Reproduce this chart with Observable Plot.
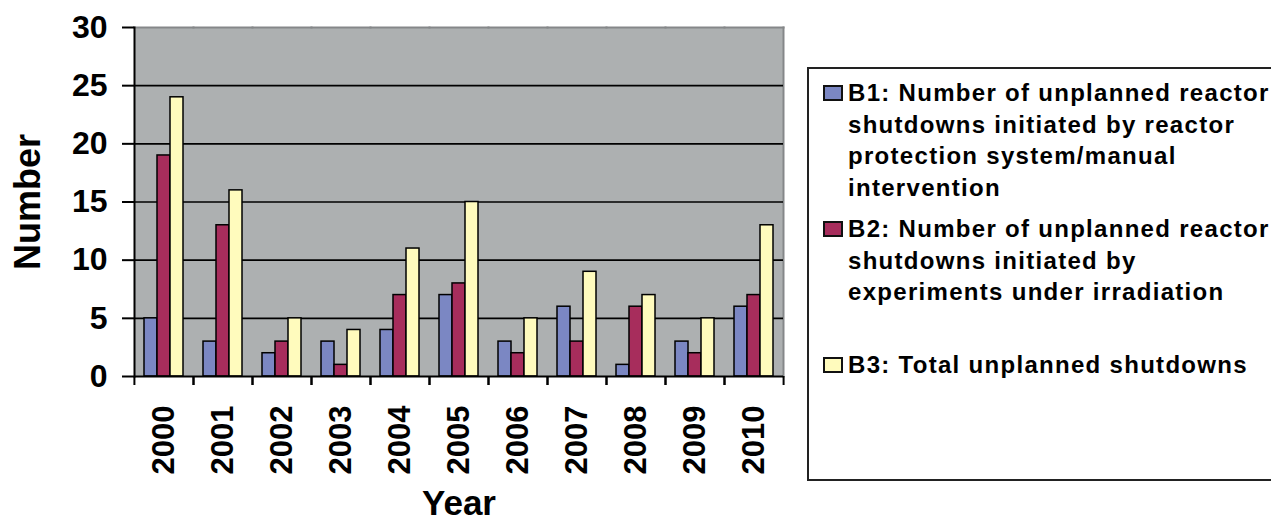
<!DOCTYPE html>
<html>
<head>
<meta charset="utf-8">
<script src="https://cdn.jsdelivr.net/npm/d3@7"></script>
<script src="https://cdn.jsdelivr.net/npm/@observablehq/plot@0.6"></script>
<style>
  html, body { margin: 0; padding: 0; background: #fff; }
  #wrap { position: relative; width: 1271px; height: 521px; overflow: hidden; background: #fff;
          font-family: "Liberation Sans", Arial, sans-serif; font-weight: bold; }
  #chart { position: absolute; left: 0; top: 0; }
  #legend { position: absolute; left: 807px; top: 67px; width: 480px; height: 414px;
            border: 2px solid #222; box-sizing: border-box; background: #fff; }
  .item { position: relative; padding-left: 39px; font-size: 24px; letter-spacing: 1.3px;
          line-height: 31.5px; color: #000; white-space: nowrap; }
  .sw { position: absolute; left: 14px; top: 8px; width: 20px; height: 16px;
        box-sizing: border-box; border: 2px solid #111; }
</style>
</head>
<body>
<div id="wrap">
  <div id="chart"></div>
  <div id="legend"></div>
</div>
<script>
const years = ["2000","2001","2002","2003","2004","2005","2006","2007","2008","2009","2010"];
const seriesKeys = ["B1","B2","B3"];
const b1 = [5, 3, 2, 3, 4, 7, 3, 6, 1, 3, 6];
const b2 = [19, 13, 3, 1, 7, 8, 2, 3, 6, 2, 7];
const b3 = [24, 16, 5, 4, 11, 15, 5, 9, 7, 5, 13];
const yTicks = [0, 5, 10, 15, 20, 25, 30];
const gridTicks = [5, 10, 15, 20, 25];
const colors = ["#7b87c3", "#a72d5c", "#fffbbd"];
const legendLines = [
  ["B1: Number of unplanned reactor", "shutdowns initiated by reactor", "protection system/manual", "intervention"],
  ["B2: Number of unplanned reactor", "shutdowns initiated by", "experiments under irradiation"],
  ["B3: Total unplanned shutdowns"]
];
const legendGapBefore = [8, 10, 41];

const values = [b1, b2, b3];
const data = years.flatMap((yr, i) => seriesKeys.map((s, k) => ({year: yr, series: s, value: values[k][i]})));

const W = 1271, H = 521;
const mL = 133, mR = W - 784, mT = 27, mB = H - 376;
const bw = (W - mL - mR) / years.length;
const bg = "#adb0b1";

const chart = Plot.plot({
  width: W, height: H,
  marginLeft: mL, marginRight: mR, marginTop: mT, marginBottom: mB,
  style: {fontFamily: "'Liberation Sans', Arial, sans-serif", fontWeight: "bold", background: "transparent", overflow: "visible", color: "#000"},
  fx: {domain: years, padding: 0},
  x: {domain: seriesKeys, paddingInner: 0, paddingOuter: 0.69, axis: null},
  y: {domain: [0, 30]},
  color: {domain: seriesKeys, range: colors},
  marks: [
    Plot.frame({fill: bg, stroke: bg, strokeWidth: 1}),
    Plot.frame({anchor: "top", stroke: "#858789", strokeWidth: 2}),
    Plot.frame({anchor: "right", stroke: "#858789", strokeWidth: 2, facetAnchor: "right"}),
    Plot.ruleY(gridTicks, {stroke: "#000", strokeWidth: 1.6}),
    Plot.barY(data, {fx: "year", x: "series", y: "value", fill: "series", stroke: "#000", strokeWidth: 1.5}),
    Plot.frame({anchor: "left", stroke: "#000", strokeWidth: 2, facetAnchor: "left"}),
    Plot.ruleY([0], {stroke: "#000", strokeWidth: 2}),
    Plot.axisY({ticks: yTicks, tickSize: 12, tickPadding: 15, fontSize: 32, label: null, strokeWidth: 2}),
    Plot.axisY({ticks: [], tickSize: 0, label: "Number", labelAnchor: "center", labelArrow: "none", labelOffset: 120, fontSize: 36}),
    Plot.axisFx({anchor: "bottom", tickSize: 0, tickRotate: -90, tickPadding: 29, fontSize: 31, label: null}),
    Plot.axisFx({anchor: "bottom", ticks: [], tickSize: 0, label: "Year", labelAnchor: "center", labelArrow: "none", labelOffset: 138, fontSize: 35}),
    Plot.axisFx({anchor: "bottom", tickSize: 9, tickFormat: () => "", dx: -bw / 2, label: null, strokeWidth: 2}),
    Plot.axisFx({anchor: "bottom", tickSize: 9, tickFormat: () => "", dx: bw / 2, label: null, strokeWidth: 2})
  ]
});
document.getElementById("chart").appendChild(chart);

const legend = document.getElementById("legend");
legendLines.forEach((lines, k) => {
  const item = document.createElement("div");
  item.className = "item";
  item.style.marginTop = legendGapBefore[k] + "px";
  const sw = document.createElement("div");
  sw.className = "sw";
  sw.style.background = colors[k];
  item.appendChild(sw);
  lines.forEach(t => {
    const ln = document.createElement("div");
    ln.textContent = t;
    item.appendChild(ln);
  });
  legend.appendChild(item);
});
</script>
</body>
</html>
